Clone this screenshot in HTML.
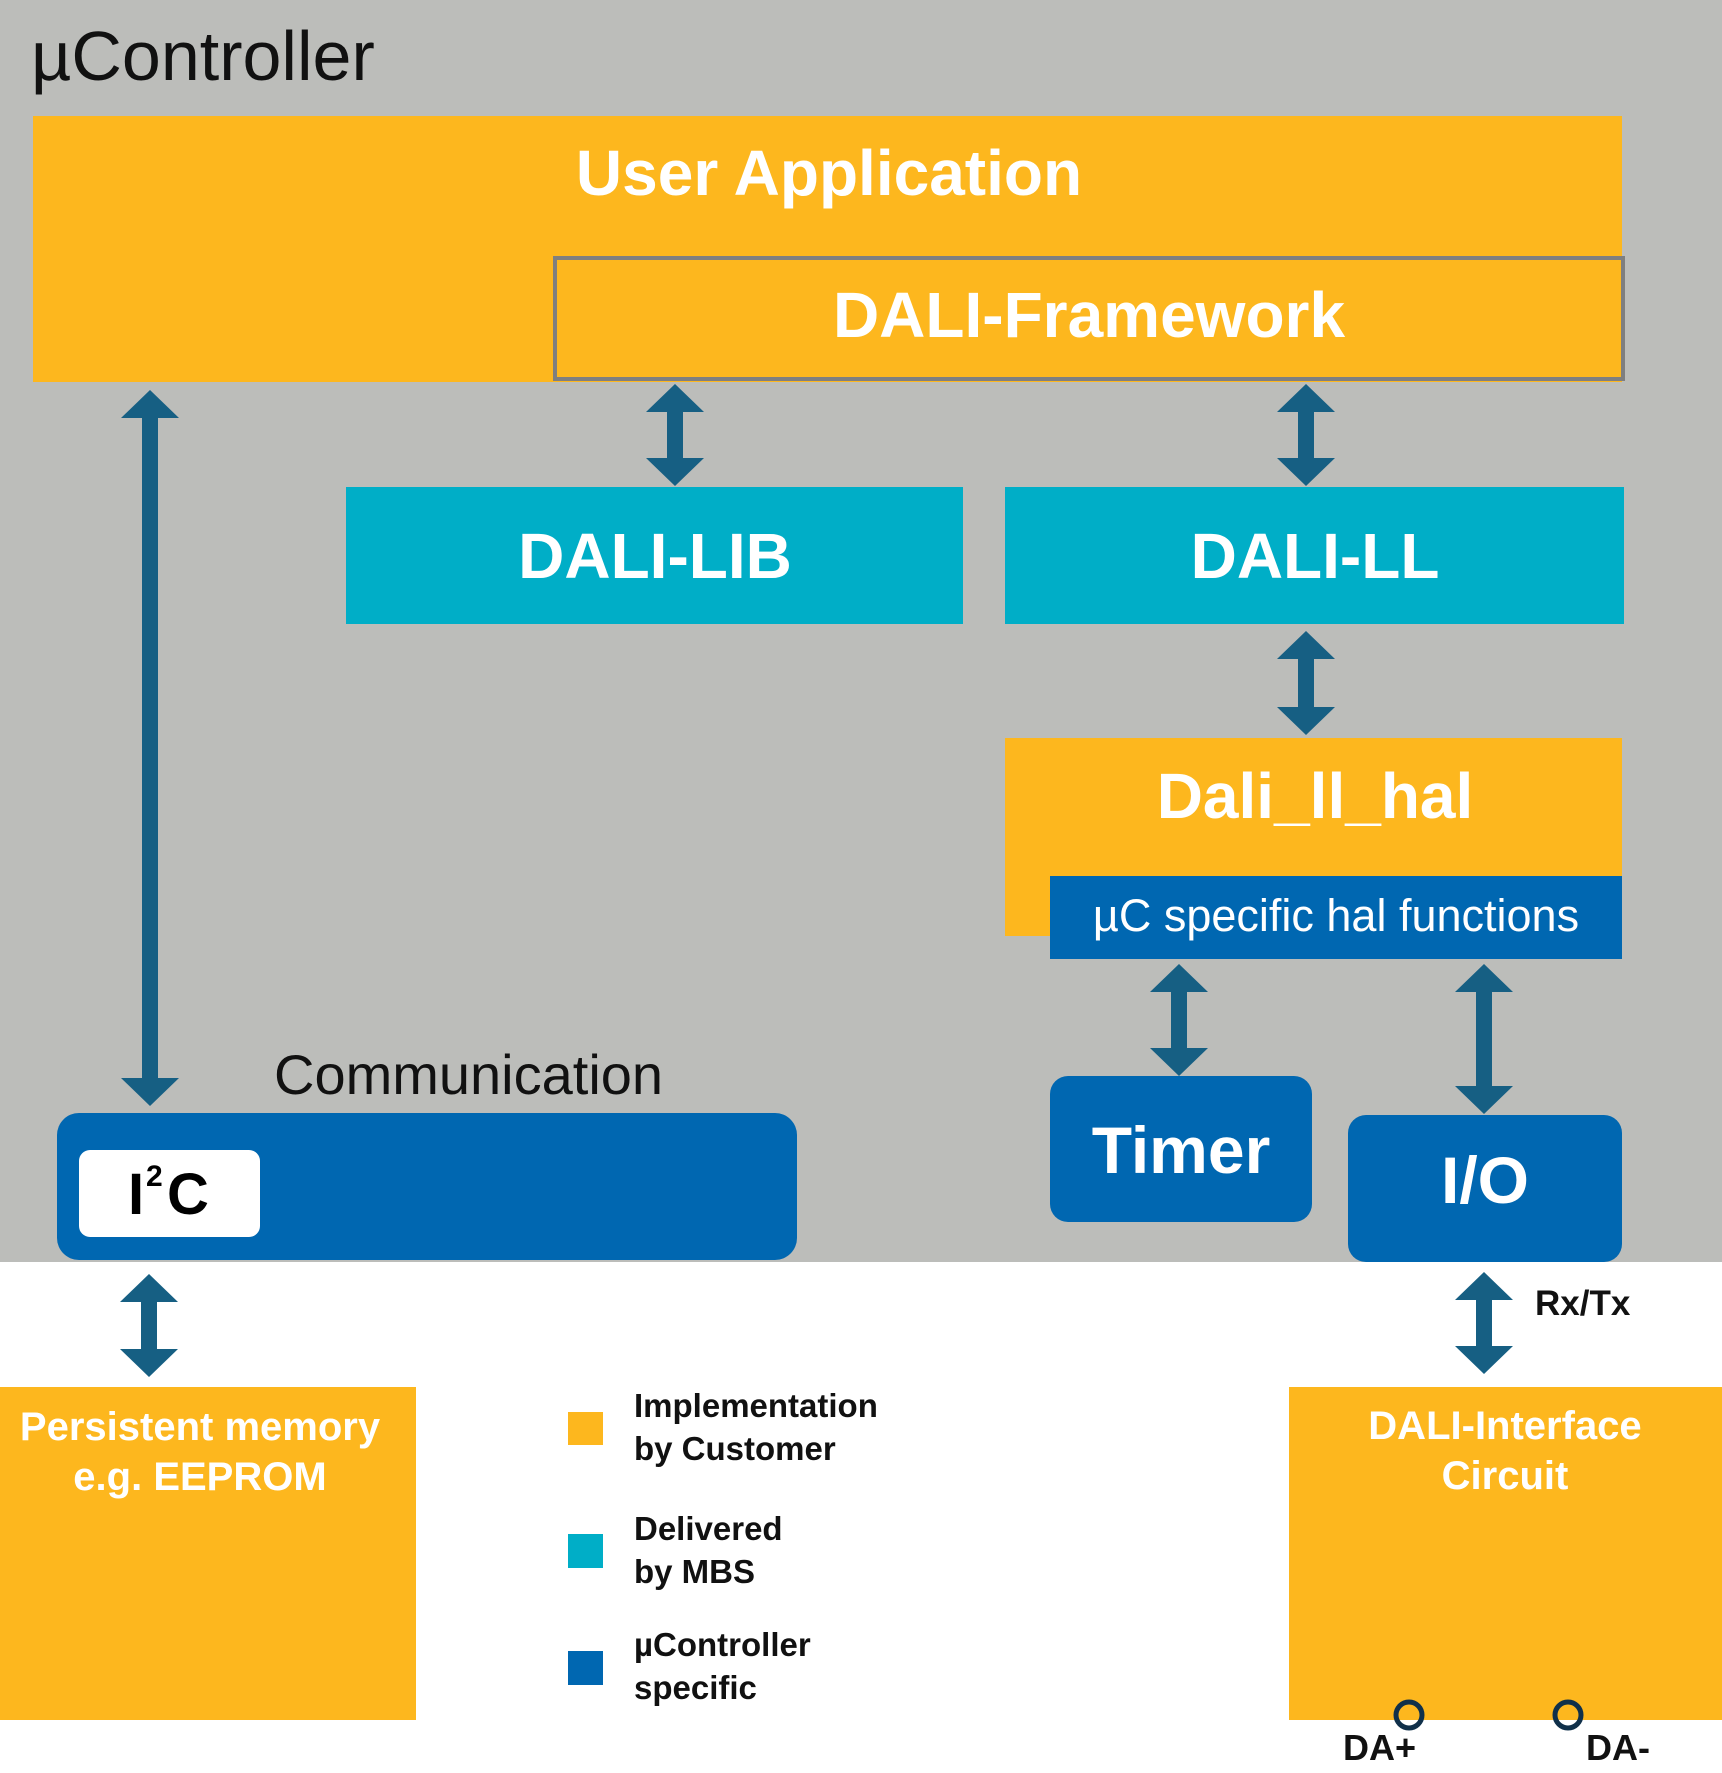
<!DOCTYPE html>
<html><head><meta charset="utf-8"><style>
html,body{margin:0;padding:0;background:#fff}
svg{display:block}
text{font-family:"Liberation Sans",Arial,sans-serif}
</style></head><body>
<svg width="1722" height="1773" viewBox="0 0 1722 1773" xmlns="http://www.w3.org/2000/svg">
<rect x="0" y="0" width="1722" height="1262" fill="#bcbdba"/>
<text x="31" y="80" font-size="70" fill="#111">µController</text>

<rect x="33" y="116" width="1589" height="266" fill="#fdb71e"/>
<text x="829" y="195" font-size="64" font-weight="bold" fill="#fff" text-anchor="middle">User Application</text>
<rect x="555" y="258" width="1068" height="121" fill="#fdb71e" stroke="#7f7f7f" stroke-width="4"/>
<text x="1089" y="337" font-size="64" font-weight="bold" fill="#fff" text-anchor="middle">DALI-Framework</text>

<rect x="346" y="487" width="617" height="137" fill="#00aec7"/>
<text x="655" y="578" font-size="64" font-weight="bold" fill="#fff" text-anchor="middle">DALI-LIB</text>
<rect x="1005" y="487" width="619" height="137" fill="#00aec7"/>
<text x="1315" y="578" font-size="64" font-weight="bold" fill="#fff" text-anchor="middle">DALI-LL</text>

<rect x="1005" y="738" width="617" height="198" fill="#fdb71e"/>
<text x="1315" y="818" font-size="64" font-weight="bold" fill="#fff" text-anchor="middle">Dali_ll_hal</text>
<rect x="1050" y="876" width="572" height="83" fill="#0067b1"/>
<text x="1336" y="931" font-size="45" fill="#fff" text-anchor="middle">µC specific hal functions</text>

<rect x="1050" y="1076" width="262" height="146" rx="18" fill="#0067b1"/>
<text x="1181" y="1173" font-size="66" font-weight="bold" fill="#fff" text-anchor="middle">Timer</text>
<rect x="1348" y="1115" width="274" height="147" rx="18" fill="#0067b1"/>
<text x="1485" y="1203" font-size="66" font-weight="bold" fill="#fff" text-anchor="middle">I/O</text>

<text x="274" y="1094" font-size="56" fill="#111">Communication</text>
<rect x="57" y="1113" width="740" height="147" rx="22" fill="#0067b1"/>
<rect x="79" y="1150" width="181" height="87" rx="11" fill="#fff"/>
<text x="128" y="1214" font-size="58" font-weight="bold" fill="#000">I</text>
<text x="146" y="1186" font-size="30" font-weight="bold" fill="#000">2</text>
<text x="167" y="1214" font-size="58" font-weight="bold" fill="#000">C</text>

<g fill="#165f83">
<rect x="142" y="416" width="16" height="664"/>
<polygon points="150,390 121,418 179,418"/><polygon points="150,1106 121,1078 179,1078"/>
<rect x="667" y="410" width="16" height="50"/>
<polygon points="675,384 646,412 704,412"/><polygon points="675,486 646,458 704,458"/>
<rect x="1298" y="410" width="16" height="50"/>
<polygon points="1306,384 1277,412 1335,412"/><polygon points="1306,486 1277,458 1335,458"/>
<rect x="1298" y="657" width="16" height="52"/>
<polygon points="1306,631 1277,659 1335,659"/><polygon points="1306,735 1277,707 1335,707"/>
<rect x="1171" y="990" width="16" height="60"/>
<polygon points="1179,964 1150,992 1208,992"/><polygon points="1179,1076 1150,1048 1208,1048"/>
<rect x="1476" y="990" width="16" height="98"/>
<polygon points="1484,964 1455,992 1513,992"/><polygon points="1484,1114 1455,1086 1513,1086"/>
<rect x="141" y="1300" width="16" height="51"/>
<polygon points="149,1274 120,1302 178,1302"/><polygon points="149,1377 120,1349 178,1349"/>
<rect x="1476" y="1298" width="16" height="50"/>
<polygon points="1484,1272 1455,1300 1513,1300"/><polygon points="1484,1374 1455,1346 1513,1346"/>
</g>
<text x="1535" y="1315" font-size="35" font-weight="bold" fill="#111">Rx/Tx</text>

<rect x="0" y="1387" width="416" height="333" fill="#fdb71e"/>
<text x="200" y="1440" font-size="40" font-weight="bold" fill="#fff" text-anchor="middle">Persistent memory</text>
<text x="200" y="1490" font-size="40" font-weight="bold" fill="#fff" text-anchor="middle">e.g. EEPROM</text>

<rect x="568" y="1412" width="35" height="33" fill="#fdb71e"/>
<rect x="568" y="1534" width="35" height="34" fill="#00aec7"/>
<rect x="568" y="1651" width="35" height="34" fill="#0067b1"/>
<g font-size="33" font-weight="bold" fill="#111">
<text x="634" y="1417">Implementation</text>
<text x="634" y="1460">by Customer</text>
<text x="634" y="1540">Delivered</text>
<text x="634" y="1583">by MBS</text>
<text x="634" y="1656">µController</text>
<text x="634" y="1699">specific</text>
</g>

<rect x="1289" y="1387" width="433" height="333" fill="#fdb71e"/>
<text x="1505" y="1439" font-size="40" font-weight="bold" fill="#fff" text-anchor="middle">DALI-Interface</text>
<text x="1505" y="1489" font-size="40" font-weight="bold" fill="#fff" text-anchor="middle">Circuit</text>
<circle cx="1409" cy="1715" r="13" fill="none" stroke="#10304a" stroke-width="5"/>
<circle cx="1568" cy="1715" r="13" fill="none" stroke="#10304a" stroke-width="5"/>
<text x="1343" y="1760" font-size="36" font-weight="bold" fill="#111">DA+</text>
<text x="1586" y="1760" font-size="36" font-weight="bold" fill="#111">DA-</text>
</svg>
</body></html>
